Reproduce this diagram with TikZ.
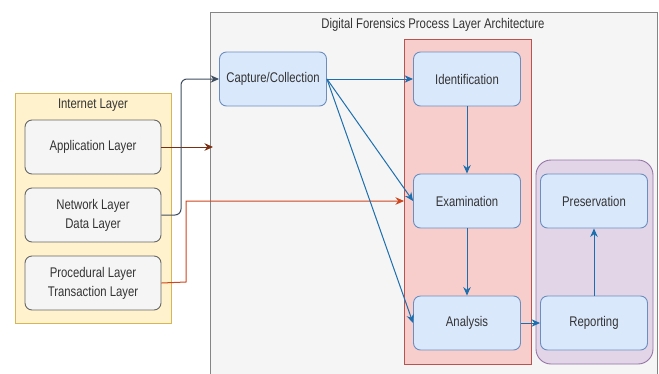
\documentclass[tikz,border=0pt]{standalone}
\usepackage{fontspec}
\setmainfont[FakeStretch=0.81]{Liberation Sans}
\usetikzlibrary{arrows.meta}
\definecolor{bluefill}{HTML}{DAE8FC}
\definecolor{bluedraw}{HTML}{6C8EBF}
\definecolor{grayfill}{HTML}{F5F5F5}
\definecolor{graydraw}{HTML}{666666}
\definecolor{redfill}{HTML}{F8CECC}
\definecolor{reddraw}{HTML}{B85450}
\definecolor{purplefill}{HTML}{E1D5E7}
\definecolor{purpledraw}{HTML}{9673A6}
\definecolor{yellowfill}{HTML}{FFF2CC}
\definecolor{yellowdraw}{HTML}{D6B656}
\definecolor{txt}{HTML}{333333}
\definecolor{flowblue}{HTML}{1B6FAE}
\definecolor{slate}{HTML}{3F4F5F}
\definecolor{brownline}{HTML}{7A2E12}
\definecolor{orangeline}{HTML}{D0451B}
\tikzset{
  x=1pt, y=-1pt,
  every node/.style={font=\fontsize{14}{19}\selectfont, text=txt, align=center},
  procbox/.style={draw=bluedraw, fill=bluefill, rounded corners=7pt, line width=0.9pt,
                  minimum width=107pt, minimum height=54pt, inner sep=0pt},
  layerbox/.style={draw=graydraw, fill=grayfill, rounded corners=7pt, line width=0.9pt,
                  minimum width=136pt, minimum height=54pt, inner sep=0pt},
  tip/.style={-{Stealth[length=8.5pt,width=7.5pt]}},
  flow/.style={draw=flowblue, line width=1pt, tip},
}
\begin{document}
\begin{tikzpicture}
\useasboundingbox (0,0) rectangle (659,373);
\clip (0,0) rectangle (659,373);
\fill[white] (0,0) rectangle (659,373);

% outer architecture frame
\draw[draw=graydraw!80, fill=grayfill, line width=1pt] (210,12) rectangle (657,390);
\node (title) at (433,25) {Digital Forensics Process Layer Architecture};

% grouping panels
\draw[draw=reddraw, fill=redfill, line width=0.9pt] (404,39) rectangle (531,364);
\draw[draw=purpledraw, fill=purplefill, line width=0.9pt, rounded corners=15pt] (536,160) rectangle (653,364);

% internet layer group
\draw[draw=yellowdraw, fill=yellowfill, line width=0.9pt] (15,93) rectangle (171,323);
\node (inet) at (93,105) {Internet Layer};
\node[layerbox] (app) at (93,147) {Application Layer};
\node[layerbox] (net) at (93,215) {Network Layer\\Data Layer};
\node[layerbox] (proc) at (93,283) {Procedural Layer\\Transaction Layer};

% process steps
\node[procbox] (cap) at (273,79) {Capture/Collection};
\node[procbox] (ident) at (467,79) {Identification};
\node[procbox] (exam) at (467,201) {Examination};
\node[procbox] (anal) at (467,323) {Analysis};
\node[procbox] (pres) at (594,201) {Preservation};
\node[procbox] (rep) at (594,323) {Reporting};

% connectors from the internet layers
\coordinate (append) at (213,147);
\coordinate (examin) at (404,201);
\draw[draw=brownline, line width=1pt, tip] (app.east) -- (append);
\draw[draw=slate, line width=1pt, rounded corners=6pt, tip]
  (net.east) -- (181,215) -- (181,79) -- (cap.west);
\draw[draw=orangeline, line width=1pt, tip]
  (proc.east) -- (186,282) -- (186,201) -- (examin);

% process flow
\draw[flow] (cap.east) -- (ident.west);
\draw[flow] (cap.east) -- (exam.west);
\draw[flow] (cap.east) -- (anal.west);
\draw[flow] (ident.south) -- (exam.north);
\draw[flow] (exam.south) -- (anal.north);
\draw[flow] (anal.east) -- (rep.west);
\draw[flow] (rep.north) -- (pres.south);
\end{tikzpicture}
\end{document}
